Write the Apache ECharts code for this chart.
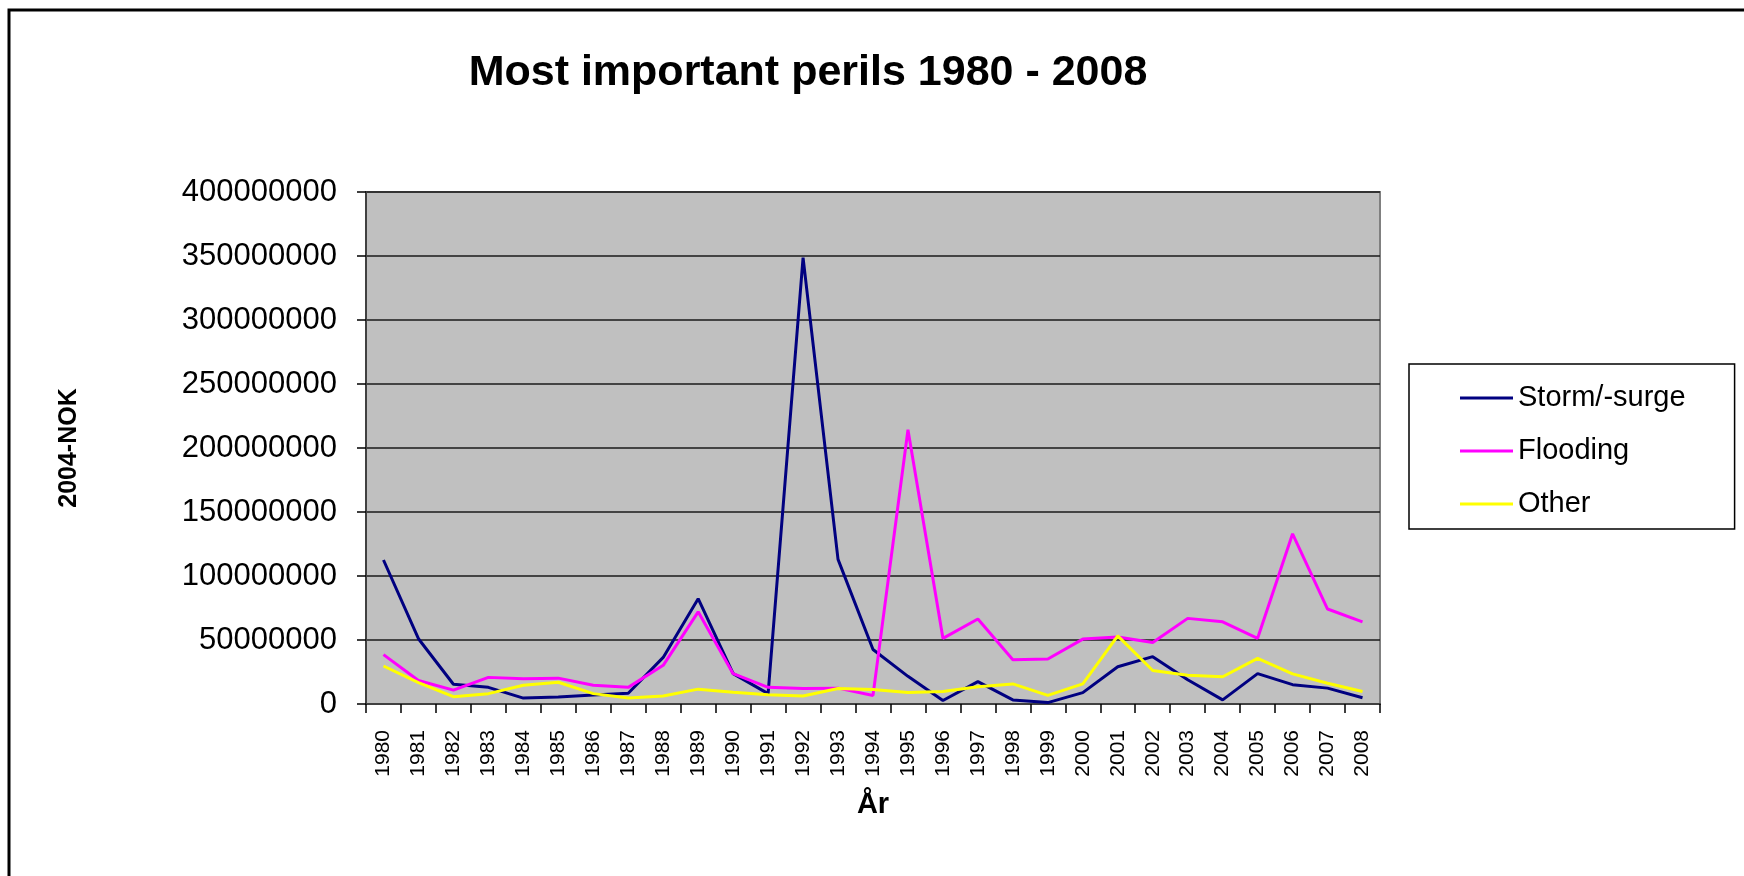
<!DOCTYPE html>
<html>
<head>
<meta charset="utf-8">
<script src="https://cdn.jsdelivr.net/npm/echarts@6/dist/echarts.min.js"></script>
<style>
  html, body { margin: 0; padding: 0; background: #fff; }
  #main { width: 1744px; height: 876px; }
</style>
</head>
<body>
<div id="main"></div>
<script>
// years on the x axis
var years = ['1980','1981','1982','1983','1984','1985','1986','1987','1988','1989',
             '1990','1991','1992','1993','1994','1995','1996','1997','1998','1999',
             '2000','2001','2002','2003','2004','2005','2006','2007','2008'];

// 2004-NOK
var storm = [112500000, 51000000, 15400000, 13000000, 4600000, 5400000, 7000000, 8400000, 36400000, 82300000,
             23700000, 8100000, 348700000, 113000000, 42600000, 21600000, 2700000, 17500000, 3200000, 1100000,
             8900000, 29100000, 37000000, 18900000, 3200000, 23700000, 15100000, 12400000, 4900000];
var flooding = [38600000, 18400000, 10800000, 20800000, 19700000, 20200000, 14600000, 13000000, 30200000, 72000000,
                23700000, 13000000, 12100000, 12400000, 6700000, 214300000, 51300000, 66400000, 34500000, 35100000,
                50700000, 52400000, 48000000, 66900000, 64200000, 51300000, 133000000, 74200000, 64200000];
var other = [29700000, 16700000, 5700000, 8100000, 14600000, 17000000, 8100000, 4600000, 6200000, 11600000,
             9200000, 7300000, 6200000, 12100000, 11300000, 8900000, 9700000, 13500000, 15700000, 6700000,
             15700000, 53200000, 26200000, 22400000, 21300000, 35600000, 23500000, 16200000, 9700000];

var seriesNames = ['Storm/-surge', 'Flooding', 'Other'];
var seriesColors = ['#000080', '#FF00FF', '#FFFF00'];

var font = '"Liberation Sans", Arial, sans-serif';
var myChart = echarts.init(document.getElementById('main'));

function line(name, data, color) {
    return {
        name: name,
        type: 'line',
        data: data,
        symbol: 'none',
        animation: false,
        lineStyle: { color: color, width: 3 },
        itemStyle: { color: color }
    };
}

var option = {
    backgroundColor: '#fff',
    animation: false,
    textStyle: { fontFamily: font },
    title: {
        text: 'Most important perils 1980 - 2008',
        left: 803,
        textAlign: 'center',
        top: 47,
        textStyle: { fontFamily: font, fontSize: 43, fontWeight: 'bold', color: '#000' }
    },
    legend: {
        orient: 'vertical',
        left: 1409,
        top: 364,
        padding: [19, 49, 10, 51],
        itemGap: 23,
        itemWidth: 53,
        itemHeight: 3,
        icon: 'rect',
        backgroundColor: '#fff',
        borderColor: '#000',
        borderWidth: 1.5,
        textStyle: { fontFamily: font, fontSize: 29, color: '#000', lineHeight: 30 },
        data: seriesNames
    },
    grid: {
        left: 366,
        top: 192,
        right: 364,
        bottom: 172,
        show: true,
        backgroundColor: '#C0C0C0',
        borderColor: '#808080',
        borderWidth: 2
    },
    xAxis: {
        type: 'category',
        data: years,
        name: 'År',
        nameLocation: 'middle',
        nameGap: 86,
        nameTextStyle: { fontFamily: font, fontSize: 29, fontWeight: 'bold', color: '#000' },
        axisLine: { lineStyle: { color: '#404040', width: 2 } },
        axisTick: { show: true, length: 9, lineStyle: { color: '#000', width: 1.5 } },
        axisLabel: { interval: 0, rotate: 90, margin: 26, fontFamily: font, fontSize: 21, color: '#000' }
    },
    yAxis: {
        type: 'value',
        min: 0,
        max: 400000000,
        interval: 50000000,
        name: '2004-NOK',
        nameLocation: 'middle',
        nameGap: 284,
        nameRotate: 90,
        nameTextStyle: { fontFamily: font, fontSize: 25, fontWeight: 'bold', color: '#000' },
        axisLine: { show: true, lineStyle: { color: '#404040', width: 2 } },
        axisTick: { show: true, length: 9, lineStyle: { color: '#000', width: 1.5 } },
        axisLabel: {
            margin: 29,
            fontFamily: font,
            fontSize: 31,
            color: '#000',
            formatter: function (v) { return String(v); }
        },
        splitLine: { lineStyle: { color: '#1a1a1a', width: 1.5 } }
    },
    graphic: [{
        type: 'rect',
        silent: true,
        shape: { x: 9, y: 10, width: 1800, height: 900 },
        style: { fill: null, stroke: '#000', lineWidth: 3 }
    }],
    series: [
        line(seriesNames[0], storm, seriesColors[0]),
        line(seriesNames[1], flooding, seriesColors[1]),
        line(seriesNames[2], other, seriesColors[2])
    ]
};
myChart.setOption(option);
</script>
</body>
</html>
